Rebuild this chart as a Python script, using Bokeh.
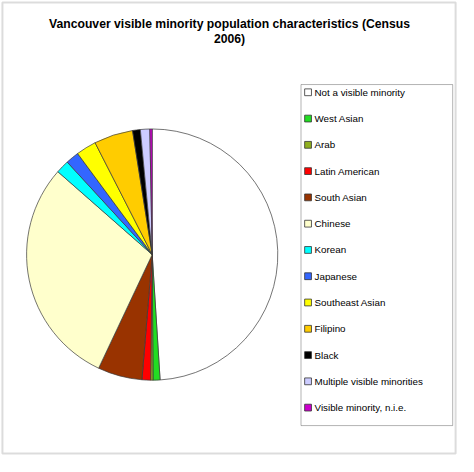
import numpy as np
from bokeh.plotting import figure
from bokeh.models import ColumnDataSource, BoxAnnotation
from bokeh.core.properties import value
from bokeh.embed import file_html
from bokeh.resources import INLINE

# ---- data ----
title_lines = ["Vancouver visible minority population characteristics (Census", "2006)"]
categories = ["Not a visible minority", "West Asian", "Arab", "Latin American", "South Asian",
              "Chinese", "Korean", "Japanese", "Southeast Asian", "Filipino", "Black",
              "Multiple visible minorities", "Visible minority, n.i.e."]
shares = [48.9, 0.9, 0.3, 1.1, 5.7, 29.4, 1.7, 1.7, 2.6, 5.0, 1.0, 1.2, 0.3]
colors = ["#FFFFFF", "#22DD22", "#8FAF1F", "#FF0000", "#993300", "#FFFFCC", "#00FFFF",
          "#3366FF", "#FFFF00", "#FFCC00", "#000000", "#CCCCFF", "#CC00CC"]

# ---- layout: data space spans the 474x472 chart area ----
W, H = 458, 456
CW, CH = 474, 472
FONT = "Liberation Sans"

p = figure(width=W, height=H, x_range=(0, CW), y_range=(0, CH), min_border=0,
           toolbar_location=None, output_backend="svg")
p.axis.visible = False
p.grid.visible = False
p.outline_line_color = None
p.background_fill_color = "white"
p.border_fill_color = "white"

# chart border
p.add_layout(BoxAnnotation(left=2, right=471, top=470, bottom=3, fill_alpha=0,
                           line_color="#8c8c8c", line_width=2))

# pie
vals = np.array(shares, dtype=float)
frac = vals / vals.sum()
cum = np.concatenate([[0.0], np.cumsum(frac)])
start = np.pi / 2 - 2 * np.pi * cum[:-1]
end = np.pi / 2 - 2 * np.pi * cum[1:]
pie_src = ColumnDataSource(dict(start=start, end=end, color=colors, cat=categories))
p.wedge(x=157, y=209, radius=130, start_angle="start", end_angle="end", direction="clock",
        fill_color="color", line_color="#3a3a3a", line_width=0.7, source=pie_src)

# title
p.text(x=[237, 237], y=[448, 432], text=title_lines, text_font=value(FONT),
       text_font_style="bold", text_font_size="12.2px", text_align="center",
       text_baseline="middle", text_color="black")

# legend box
p.add_layout(BoxAnnotation(left=311, right=468, top=385, bottom=32,
                           fill_color="white", fill_alpha=1.0,
                           line_color="black", line_width=1, level="underlay"))
n = len(categories)
idx = np.arange(n)
ly = 377 - idx * 27.2
leg_src = ColumnDataSource(dict(y=ly, x=np.full(n, 318.3), tx=np.full(n, 325.0),
                                color=colors, cat=categories))
p.scatter(x="x", y="y", marker="square", size=6.8, fill_color="color",
          line_color="#333333", line_width=0.8, source=leg_src)
p.text(x="tx", y="y", text="cat", text_font=value(FONT), text_font_size="9.8px",
       text_baseline="middle", text_align="left", text_color="black", source=leg_src)

open("out.html", "w").write(file_html(p, INLINE))
